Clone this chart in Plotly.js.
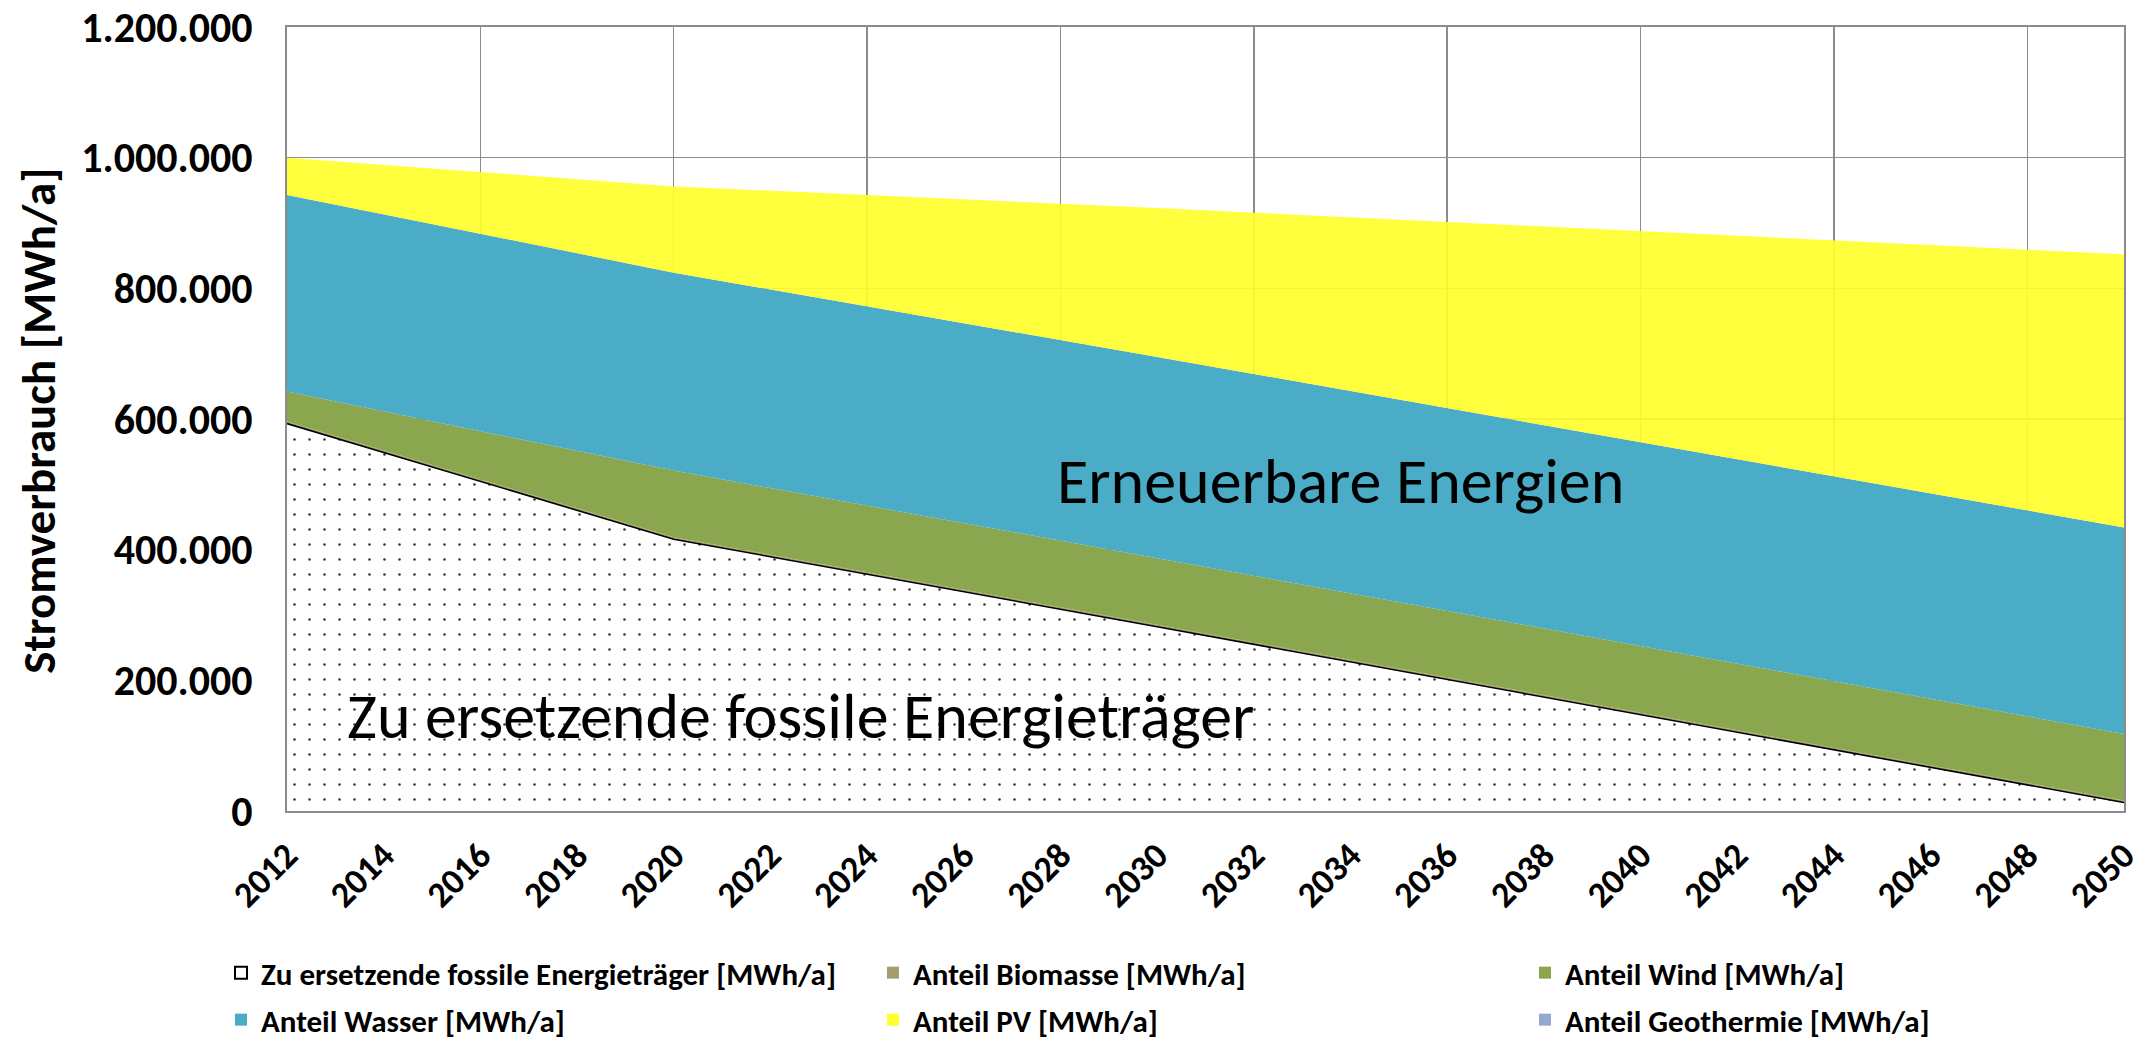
<!DOCTYPE html>
<html>
<head>
<meta charset="utf-8">
<script src="https://cdn.plot.ly/plotly-3.0.1.min.js"></script>
<style>html,body{margin:0;padding:0;background:#fff;}#chart{width:2150px;height:1042px;}</style>
</head>
<body>
<div id="chart"></div>
<script>
// Data (MWh/a)
const years       = [2012, 2020, 2030, 2040, 2050];
const fossil      = [593000, 416000, 282000, 147000, 13000];
const biomasse    = [3000, 3000, 3000, 3000, 3000];
const wind        = [46000, 102000, 102000, 102000, 102000];
const wasser      = [301000, 303000, 308000, 312000, 316000];
const pv          = [57000, 132000, 228000, 323000, 418000];
const geothermie  = [0, 0, 0, 0, 0];
const xTickYears  = [2012,2014,2016,2018,2020,2022,2024,2026,2028,2030,2032,2034,2036,2038,2040,2042,2044,2046,2048,2050];
const seriesNames = [
  'Zu ersetzende fossile Energieträger [MWh/a]',
  'Anteil Biomasse [MWh/a]',
  'Anteil Wind [MWh/a]',
  'Anteil Wasser [MWh/a]',
  'Anteil PV [MWh/a]',
  'Anteil Geothermie [MWh/a]'
];
const colors = ['#ffffff', '#a69d6e', '#8aa64e', '#4aacc6', '#ffff33', '#95a8d0'];

const FONT = 'Carlito, Lato, "Open Sans", sans-serif';

function area(i, y, fill, extra) {
  return Object.assign({
    type: 'scatter', mode: 'lines', x: years, y: y, name: seriesNames[i],
    stackgroup: 'one', fillcolor: fill, showlegend: false,
    line: {width: 0, color: fill}, hoverinfo: 'x+y+name'
  }, extra || {});
}

const traces = [
  area(0, fossil, '#ffffff', {
    line: {width: 1.6, color: '#000000'},
    fillpattern: {shape: '.', fgcolor: '#333333', bgcolor: '#ffffff', size: 15, solidity: 0.022}
  }),
  area(1, biomasse, colors[1]),
  area(2, wind, colors[2]),
  area(3, wasser, colors[3]),
  area(4, pv, 'rgba(255,255,40,0.9)'),
  area(5, geothermie, colors[5]),
  {type: 'scatter', x: [2012, 2050], y: [null, null], xaxis: 'x2', showlegend: false, hoverinfo: 'skip', mode: 'lines'}
];

// legend entries (one legend per cell: 3 columns x 2 rows)
const legendIds = ['legend', 'legend2', 'legend3', 'legend4', 'legend5', 'legend6'];
seriesNames.forEach((n, i) => {
  traces.push({
    type: 'scatter', mode: 'markers', x: [null], y: [null], name: n,
    legend: legendIds[i], showlegend: true, hoverinfo: 'skip',
    marker: {symbol: 'square', size: 17, color: colors[i],
             line: {width: i === 0 ? 1.5 : 0, color: '#000000'}}
  });
});

const colX = [221 / 2150, 873 / 2150, 1525 / 2150];
const rowY = [1 - 973 / 1042, 1 - 1020 / 1042];
function leg(c, r) {
  return {
    xref: 'container', yref: 'container', x: colX[c], y: rowY[r],
    xanchor: 'left', yanchor: 'middle', bgcolor: 'rgba(0,0,0,0)',
    font: {family: FONT, size: 31, color: '#000000', weight: 'bold'},
    itemsizing: 'constant'
  };
}

const layout = {
  width: 2150, height: 1042,
  margin: {l: 287, r: 26, t: 27, b: 231, autoexpand: false},
  paper_bgcolor: '#ffffff', plot_bgcolor: '#ffffff',
  separators: ',.',
  font: {family: FONT, color: '#000000'},
  showlegend: true,
  legend: leg(0, 0), legend2: leg(1, 0), legend3: leg(2, 0),
  legend4: leg(0, 1), legend5: leg(1, 1), legend6: leg(2, 1),
  xaxis: {
    type: 'linear', range: [2012, 2050],
    tick0: 2012, dtick: 4, showticklabels: false,
    showgrid: true, gridcolor: '#8c8c8c', gridwidth: 1.5,
    showline: true, linecolor: '#8c8c8c', linewidth: 2, mirror: true,
    zeroline: false, ticks: ''
  },
  xaxis2: {
    type: 'linear', range: [2012, 2050], overlaying: 'x', anchor: 'y', side: 'bottom',
    tickmode: 'array', tickvals: xTickYears, ticktext: xTickYears.map(String),
    tickangle: -45, showgrid: false, zeroline: false, showline: false, ticks: '',
    ticklabelstandoff: 15, ticklabeloverflow: 'allow',
    tickfont: {family: FONT, size: 36, color: '#000000', weight: 'bold'}
  },
  yaxis: {
    range: [0, 1200000], tick0: 0, dtick: 200000, tickformat: ',d',
    showgrid: true, gridcolor: '#8c8c8c', gridwidth: 1.5,
    showline: true, linecolor: '#8c8c8c', linewidth: 2, mirror: true,
    zeroline: false, ticks: '', ticklen: 0,
    ticklabelstandoff: 24, ticklabeloverflow: 'allow',
    tickfont: {family: FONT, size: 42, color: '#000000', weight: 'bold'}
  },
  annotations: [
    {text: 'Stromverbrauch [MWh/a]', xref: 'paper', yref: 'paper', x: -0.1355, y: 0.498,
     textangle: -90, showarrow: false, xanchor: 'center', yanchor: 'middle',
     font: {family: FONT, size: 47, color: '#000000', weight: 'bold'}},
    {text: 'Erneuerbare Energien', xref: 'x', yref: 'y', x: 2033.8, y: 505000,
     showarrow: false, xanchor: 'center', yanchor: 'middle',
     font: {family: FONT, size: 64, color: '#000000'}},
    {text: 'Zu ersetzende fossile Energieträger', xref: 'x', yref: 'y', x: 2013.2, y: 145000,
     showarrow: false, xanchor: 'left', yanchor: 'middle',
     font: {family: FONT, size: 64, color: '#000000'}}
  ]
};

Plotly.newPlot('chart', traces, layout, {displayModeBar: false, staticPlot: true});
</script>
</body>
</html>
